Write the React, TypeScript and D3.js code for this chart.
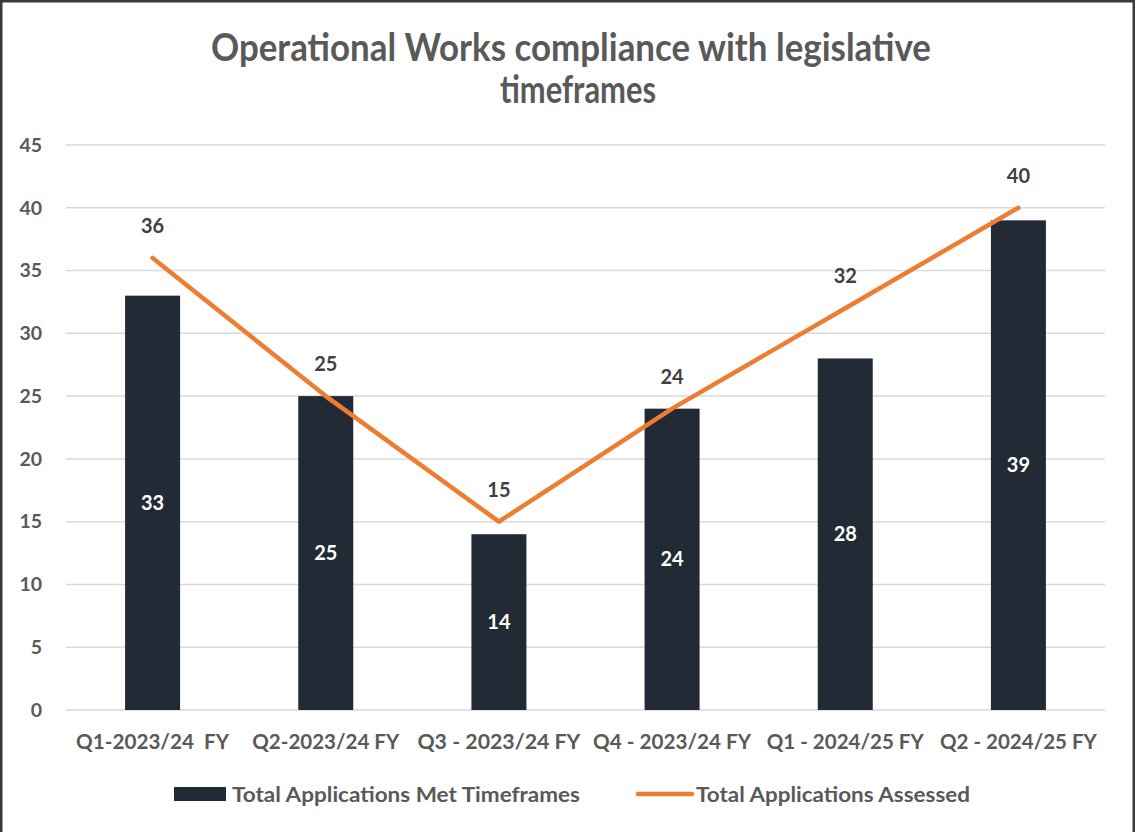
import React from "react";
import * as d3 from "d3";

const categories = [
  "Q1-2023/24  FY",
  "Q2-2023/24 FY",
  "Q3 - 2023/24 FY",
  "Q4 - 2023/24 FY",
  "Q1 - 2024/25 FY",
  "Q2 - 2024/25 FY",
];
const metTimeframes = [33, 25, 14, 24, 28, 39];
const assessed = [36, 25, 15, 24, 32, 40];
const yTicks = [0, 5, 10, 15, 20, 25, 30, 35, 40, 45];
const titleLines = ["Operational Works compliance with legislative", "timeframes"];
const seriesNames = ["Total Applications Met Timeframes", "Total Applications Assessed"];

const W = 1135;
const H = 832;
const FONT = "Lato, 'Open Sans', sans-serif";
const BAR = "#222A35";
const LINE = "#ED7D31";
const TXT = "#595959";

export default function App() {
  const x = d3.scaleBand<string>().domain(categories).range([66, 1105]).paddingInner(0).paddingOuter(0);
  const y = d3.scaleLinear().domain([0, 45]).range([710, 145]);
  const bw = 55;
  const cx = (c: string) => (x(c) ?? 0) + x.bandwidth() / 2;
  const line = d3
    .line<number>()
    .x((_, i) => cx(categories[i]))
    .y((d) => y(d));

  return (
    <svg
      width={W}
      height={H}
      style={{ position: "absolute", left: 0, top: 0, background: "#fff" }}
      fontFamily={FONT}
      fontWeight={700}
    >
      <rect x={0} y={0} width={W} height={H} fill="#fff" />
      <rect x={1.25} y={1.25} width={W - 2.5} height={H + 10} fill="none" stroke="#3a3a3a" strokeWidth={2.5} />

      {titleLines.map((t, i) => (
        <text
          key={i}
          x={i === 0 ? 571 : 578}
          y={i === 0 ? 61 : 103}
          textAnchor="middle"
          fontSize={39}
          fill={TXT}
          textLength={i === 0 ? 720 : 156}
          lengthAdjust="spacingAndGlyphs"
        >
          {t}
        </text>
      ))}

      {yTicks.map((t) => (
        <g key={t}>
          <line x1={66} x2={1105} y1={y(t)} y2={y(t)} stroke="#D9D9D9" strokeWidth={1.5} />
          <text x={42} y={y(t)} dy="0.35em" textAnchor="end" fontSize={19.5} fill={TXT}>
            {t}
          </text>
        </g>
      ))}

      {metTimeframes.map((v, i) => (
        <g key={i}>
          <rect x={cx(categories[i]) - bw / 2} y={y(v)} width={bw} height={y(0) - y(v)} fill={BAR} />
          <text
            x={cx(categories[i])}
            y={(y(v) + y(0)) / 2}
            dy="0.35em"
            textAnchor="middle"
            fontSize={20}
            fill="#fff"
          >
            {v}
          </text>
        </g>
      ))}

      <path d={line(assessed) ?? ""} fill="none" stroke={LINE} strokeWidth={4.5} strokeLinecap="round" strokeLinejoin="round" />
      {assessed.map((v, i) => (
        <text
          key={i}
          x={cx(categories[i])}
          y={y(v) - 32}
          dy="0.35em"
          textAnchor="middle"
          fontSize={20}
          fill="#404040"
        >
          {v}
        </text>
      ))}

      {categories.map((c, i) => (
        <text
          key={c}
          x={cx(c)}
          y={742}
          dy="0.35em"
          textAnchor="middle"
          fontSize={20.5}
          fill={TXT}
          textLength={[153, 147, 163, 158, 157, 157][i]}
          lengthAdjust="spacingAndGlyphs"
          style={{ whiteSpace: "pre" }}
        >
          {c}
        </text>
      ))}

      <rect x={174} y={787} width={52} height={14} fill={BAR} />
      <text x={232} y={795} dy="0.35em" fontSize={20.5} fill={TXT} textLength={348} lengthAdjust="spacingAndGlyphs">
        {seriesNames[0]}
      </text>
      <line x1={638} x2={692} y1={794} y2={794} stroke={LINE} strokeWidth={4.5} strokeLinecap="round" />
      <text x={696} y={795} dy="0.35em" fontSize={20.5} fill={TXT} textLength={274} lengthAdjust="spacingAndGlyphs">
        {seriesNames[1]}
      </text>
    </svg>
  );
}
